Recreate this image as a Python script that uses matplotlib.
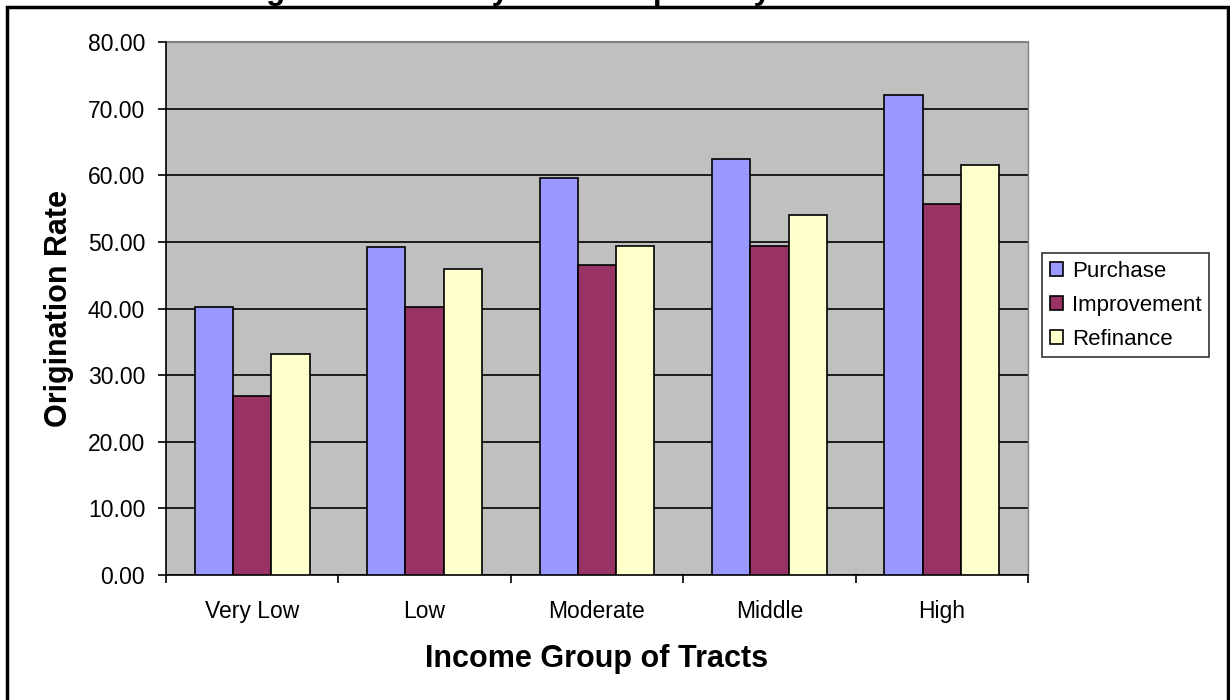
import matplotlib
matplotlib.use("Agg")
import matplotlib.pyplot as plt
import numpy as np
from matplotlib.patches import Rectangle

plt.rcParams['font.family'] = ['Liberation Sans', 'DejaVu Sans']

categories = ["Very Low", "Low", "Moderate", "Middle", "High"]
purchase = [40.2, 49.3, 59.6, 62.4, 72.0]
improvement = [26.9, 40.2, 46.5, 49.4, 55.7]
refinance = [33.2, 45.9, 49.4, 54.0, 61.6]
series = [("Purchase", purchase, "#9999FF"),
          ("Improvement", improvement, "#993366"),
          ("Refinance", refinance, "#FFFFCC")]
yticks = [0, 10, 20, 30, 40, 50, 60, 70, 80]

W, H = 1230, 700
fig = plt.figure(figsize=(W / 100, H / 100), dpi=100)
ax = fig.add_axes([166 / W, 1 - 575 / H, (1028 - 166) / W, (575 - 42) / H])
ax.set_facecolor("#C0C0C0")

x = np.arange(len(categories))
bw = 0.222
for i, (name, vals, col) in enumerate(series):
    ax.bar(x + (i - 1) * bw, vals, width=bw, color=col, edgecolor="black",
           linewidth=1.2, label=name, zorder=3)

ax.set_xlim(-0.5, len(categories) - 0.5)
ax.set_ylim(0, 80)
ax.set_yticks(yticks)
ax.set_yticklabels([f"{v:.2f}" for v in yticks], fontsize=16.5)
ax.yaxis.grid(True, color="black", linewidth=1.2, zorder=1)
ax.set_axisbelow(True)

ax.set_xticks(np.arange(-0.5, len(categories) + 0.5, 1.0))
ax.set_xticklabels([])
ax.set_xticks(x, minor=True)
ax.set_xticklabels(categories, minor=True, fontsize=16.5)
ax.tick_params(axis="x", which="minor", length=0, pad=18)
ax.tick_params(axis="x", which="major", length=6, direction="out", width=1.2)
ax.tick_params(axis="y", length=6, direction="out", width=1.2, pad=9)

for s in ["top", "right"]:
    ax.spines[s].set_visible(False)
for s in ["left", "bottom"]:
    ax.spines[s].set_linewidth(1.2)
ax.plot([0, 1], [1, 1], transform=ax.transAxes, color="#808080", lw=1.5, clip_on=False)
ax.plot([1, 1], [0, 1], transform=ax.transAxes, color="#808080", lw=1.0, clip_on=False)

ax.set_xlabel("Income Group of Tracts", fontsize=22, fontweight="bold", labelpad=15)
ax.set_ylabel("Origination Rate", fontsize=22, fontweight="bold", labelpad=10)

leg = ax.legend(loc="upper left", bbox_to_anchor=(1042 / W, 1 - 253 / H),
                bbox_transform=fig.transFigure, fontsize=16, frameon=True,
                fancybox=False, edgecolor="black", handlelength=0.6,
                handleheight=0.6, handletextpad=0.4, borderpad=0.35,
                labelspacing=0.58, borderaxespad=0)
leg.get_frame().set_linewidth(1.2)

fig.text(597 / W, 1 + 1 / H, "Origination Rate by Loan Purpose by Tract Income",
         ha="center", va="baseline", fontsize=22.5, fontweight="bold")

fig.patches.append(Rectangle((7 / W, -0.1), (1228 - 7) / W, 1.1 - 7 / H,
                             transform=fig.transFigure, fill=False,
                             edgecolor="black", linewidth=2.5))

fig.savefig("out.png", dpi=100)
